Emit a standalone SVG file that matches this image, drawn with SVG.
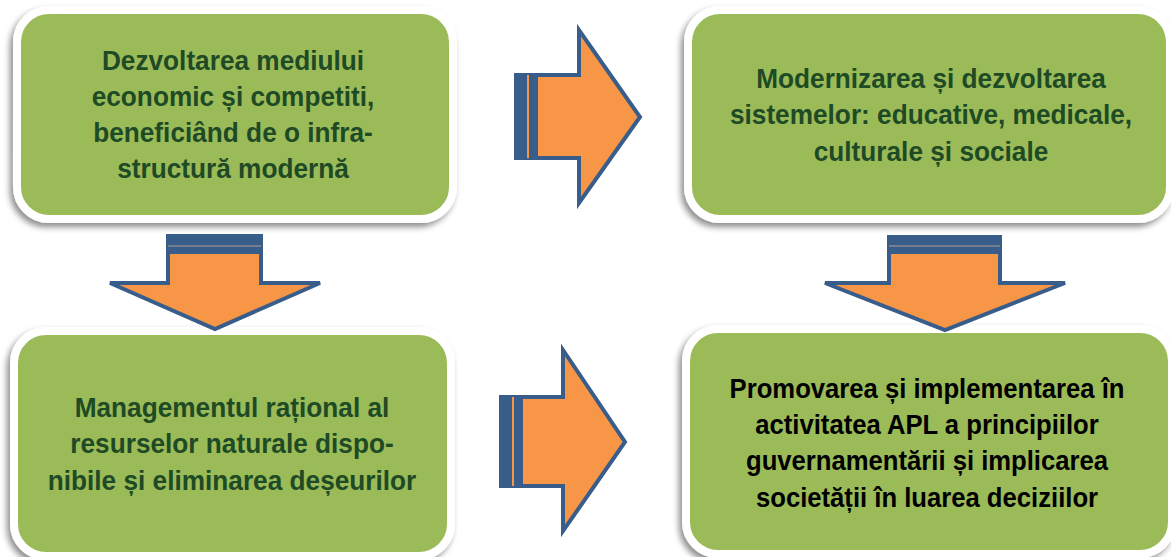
<svg xmlns="http://www.w3.org/2000/svg" width="1171" height="557" viewBox="0 0 1171 557">
<defs>
<filter id="sh" x="-10%" y="-10%" width="120%" height="125%">
<feDropShadow dx="-3" dy="4" stdDeviation="3" flood-color="#000" flood-opacity="0.45"/>
</filter>
<style>
.box{fill:#9bbb59;stroke:#fff;stroke-width:8;filter:url(#sh)}
.t{font-family:"Liberation Sans",Arial,sans-serif;font-weight:bold;font-size:28.5px;text-anchor:middle;fill:#1e4a25}
.tk{fill:#000;font-size:28.5px}
.arr{fill:#f79646;stroke:#385d8a;stroke-width:4;stroke-linejoin:miter}
.band{fill:#385d8a}
.gap{stroke:#f79646;stroke-width:2}
.gapg{stroke:#8a8a8a;stroke-width:1.5}
</style>
</defs>
<rect width="1171" height="557" fill="#fff"/>
<g id="node1">
<rect class="box" x="17" y="10" width="436" height="209" rx="32"/>
<text class="t" transform="translate(233 0) scale(0.92 1)"><tspan x="0" y="70">Dezvoltarea mediului</tspan><tspan x="0" y="106">economic și competiti,</tspan><tspan x="0" y="142">beneficiând de o infra-</tspan><tspan x="0" y="178">structură modernă</tspan></text>
</g>
<g id="node2">
<rect class="box" x="688" y="10" width="482" height="209" rx="32"/>
<text class="t" transform="translate(931 0) scale(0.92 1)"><tspan x="0" y="88">Modernizarea și dezvoltarea</tspan><tspan x="0" y="124">sistemelor: educative, medicale,</tspan><tspan x="0" y="161">culturale și sociale</tspan></text>
</g>
<g id="node3">
<rect class="box" x="14" y="331" width="437" height="225" rx="32"/>
<text class="t" transform="translate(232 0) scale(0.92 1)"><tspan x="0" y="417">Managementul rațional al</tspan><tspan x="0" y="453">resurselor naturale dispo-</tspan><tspan x="0" y="490">nibile și eliminarea deșeurilor</tspan></text>
</g>
<g id="node4">
<rect class="box" x="686" y="329" width="486" height="225" rx="32"/>
<text class="t tk" transform="translate(927 0) scale(0.9 1)"><tspan x="0" y="398">Promovarea și implementarea în</tspan><tspan x="0" y="434">activitatea APL a principiilor</tspan><tspan x="0" y="470">guvernamentării și implicarea</tspan><tspan x="0" y="507">societății în luarea deciziilor</tspan></text>
</g>
<g id="connectors">
<g id="arrow-right-top">
<polygon class="arr" points="520,75 579,75 579,30 640,117 579,203 579,158 520,158"/>
<rect class="band" x="514" y="73" width="24" height="87"/>
<line class="gap" x1="528" y1="75" x2="528" y2="158"/>
</g>
<g id="arrow-right-bottom">
<polygon class="arr" points="505,397 563,397 563,350 625,442 563,531 563,486 505,486"/>
<rect class="band" x="499" y="395" width="24" height="93"/>
<line class="gap" x1="513" y1="397" x2="513" y2="486"/>
</g>
<g id="arrow-down-left">
<polygon class="arr" points="168,240 261,240 261,283 320,283 215,329 110,283 168,283"/>
<rect class="band" x="166" y="234" width="97" height="20"/>
<line class="gapg" x1="168" y1="246" x2="261" y2="246"/>
</g>
<g id="arrow-down-right">
<polygon class="arr" points="889,240 1000,240 1000,283 1065,283 945,330 825,283 889,283"/>
<rect class="band" x="887" y="235" width="115" height="19"/>
<line class="gapg" x1="889" y1="246" x2="1000" y2="246"/>
</g>
</g>
</svg>
